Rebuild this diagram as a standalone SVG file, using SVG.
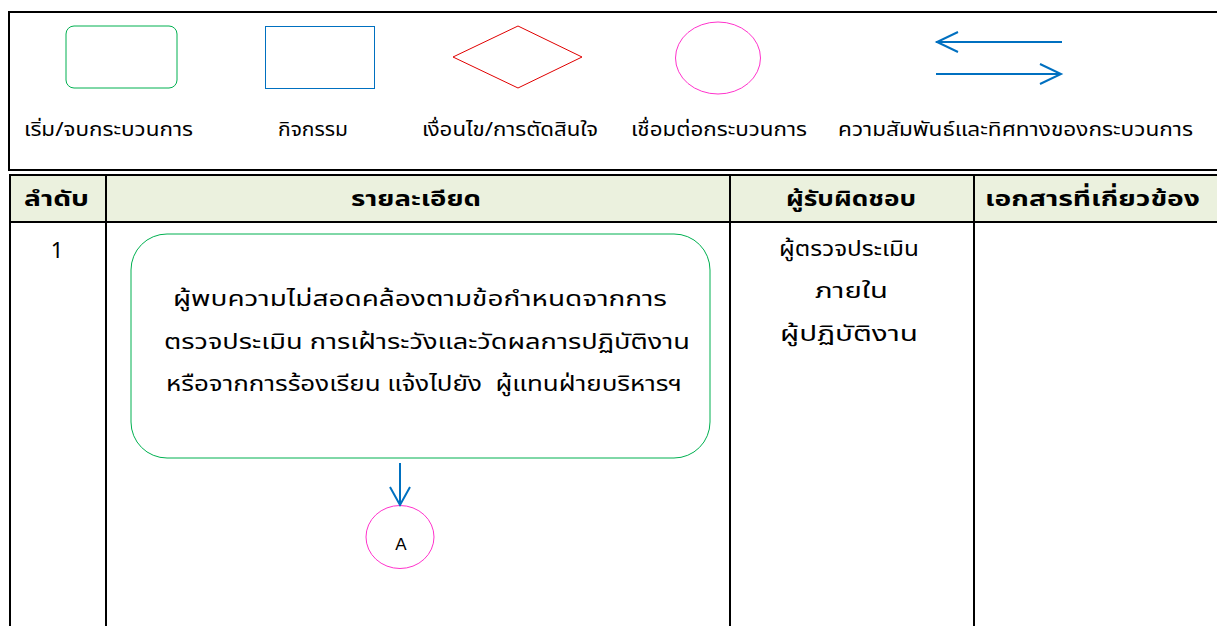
<svg xmlns="http://www.w3.org/2000/svg" width="1217" height="626" viewBox="0 0 1217 626">
<defs>
<style>
.t{font-family:"Noto Sans Thai","Noto Sans","Liberation Sans",sans-serif;fill:#000}
.lg{font-size:19px}
.hd{font-size:22px;font-weight:bold}
.bd{font-size:22px}
.grid{stroke:#000;stroke-width:2;fill:none}
.flow{stroke:#0070C0;stroke-width:2;fill:none}
</style>
</defs>
<rect width="1217" height="626" fill="#fff"/>
<g id="legend">
<rect x="9" y="12" width="1212" height="158" class="grid"/>
<rect x="66" y="26" width="111" height="62" rx="8" fill="none" stroke="#00B050" stroke-width="1"/>
<rect x="265.5" y="26.5" width="109" height="62" fill="none" stroke="#0070C0" stroke-width="1"/>
<polygon points="453,57 518,26 582,57 518,88" fill="none" stroke="#E00000" stroke-width="1"/>
<ellipse cx="718" cy="58" rx="42.5" ry="36" fill="none" stroke="#FF33CC" stroke-width="1"/>
<line x1="936" y1="42" x2="1062" y2="42" class="flow"/>
<path d="M958,32 L937,42 L958,52" class="flow"/>
<line x1="936" y1="74" x2="1061" y2="74" class="flow"/>
<path d="M1040,64 L1061,74 L1040,84" class="flow"/>
<text class="t lg" x="24" y="136" textLength="169" lengthAdjust="spacingAndGlyphs">เริ่ม/จบกระบวนการ</text>
<text class="t lg" x="278" y="136" textLength="70" lengthAdjust="spacingAndGlyphs">กิจกรรม</text>
<text class="t lg" x="422" y="136" textLength="176" lengthAdjust="spacingAndGlyphs">เงื่อนไข/การตัดสินใจ</text>
<text class="t lg" x="631" y="136" textLength="176" lengthAdjust="spacingAndGlyphs">เชื่อมต่อกระบวนการ</text>
<text class="t lg" x="838" y="136" textLength="355" lengthAdjust="spacingAndGlyphs">ความสัมพันธ์และทิศทางของกระบวนการ</text>
</g>
<g id="table">
<rect x="9" y="175" width="1212" height="47" fill="#EBF1DE"/>
<line x1="9" y1="175" x2="1217" y2="175" class="grid"/>
<line x1="9" y1="222" x2="1217" y2="222" class="grid"/>
<line x1="10" y1="174" x2="10" y2="626" class="grid"/>
<line x1="106" y1="174" x2="106" y2="626" class="grid"/>
<line x1="730" y1="174" x2="730" y2="626" class="grid"/>
<line x1="974" y1="174" x2="974" y2="626" class="grid"/>
<text class="t hd" x="24" y="206" textLength="65" lengthAdjust="spacingAndGlyphs">ลำดับ</text>
<text class="t hd" x="351" y="206" textLength="130" lengthAdjust="spacingAndGlyphs">รายละเอียด</text>
<text class="t hd" x="786" y="206" textLength="130" lengthAdjust="spacingAndGlyphs">ผู้รับผิดชอบ</text>
<text class="t hd" x="985" y="206" textLength="215" lengthAdjust="spacingAndGlyphs">เอกสารที่เกี่ยวข้อง</text>
<text class="t bd" x="57" y="258" text-anchor="middle">1</text>
</g>
<g id="node-start">
<rect x="131" y="234" width="579" height="224" rx="36" fill="none" stroke="#00B050" stroke-width="1"/>
<text class="t bd" x="173" y="306" textLength="494" lengthAdjust="spacingAndGlyphs">ผู้พบความไม่สอดคล้องตามข้อกำหนดจากการ</text>
<text class="t bd" x="164" y="349" textLength="526" lengthAdjust="spacingAndGlyphs">ตรวจประเมิน การเฝ้าระวังและวัดผลการปฏิบัติงาน</text>
<text class="t bd" x="166" y="391" textLength="516" lengthAdjust="spacingAndGlyphs" xml:space="preserve">หรือจากการร้องเรียน แจ้งไปยัง  ผู้แทนฝ่ายบริหารฯ</text>
</g>
<g id="node-resp">
<text class="t bd" x="779" y="256" textLength="140" lengthAdjust="spacingAndGlyphs">ผู้ตรวจประเมิน</text>
<text class="t bd" x="815" y="298" textLength="73" lengthAdjust="spacingAndGlyphs">ภายใน</text>
<text class="t bd" x="780" y="341" textLength="138" lengthAdjust="spacingAndGlyphs">ผู้ปฏิบัติงาน</text>
</g>
<g id="node-A">
<ellipse cx="400" cy="537" rx="34" ry="31.5" fill="none" stroke="#FF33CC" stroke-width="1"/>
<text x="401" y="550" font-family="Liberation Sans, sans-serif" font-size="17" fill="#000" text-anchor="middle">A</text>
</g>
<g id="connectors">
<line x1="400" y1="463" x2="400" y2="504" class="flow"/>
<path d="M390,487 L400,505 L410,487" class="flow"/>
</g>
</svg>
